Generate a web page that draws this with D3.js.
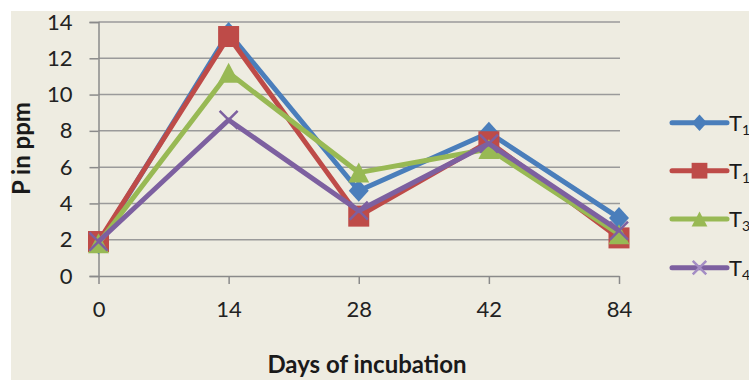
<!DOCTYPE html>
<html><head><meta charset="utf-8">
<script src="https://cdn.jsdelivr.net/npm/d3@7"></script>
<style>body{margin:0;background:#fff}svg{display:block}</style>
</head><body>
<svg id="c" width="749" height="380"></svg>
<script>
const categories = ["0","14","28","42","84"];
const yTicks = [0,2,4,6,8,10,12,14];
const seriesNames = ["T1","T1","T3","T4"];
const seriesSubs = ["1","1","3","4"];
const t1a = [1.8, 13.4, 4.7, 7.9, 3.2];
const t1b = [1.9, 13.2, 3.3, 7.4, 2.1];
const t3 = [1.8, 11.2, 5.7, 7.0, 2.3];
const t4 = [1.9, 8.6, 3.6, 7.3, 2.5];
const seriesValues = [t1a, t1b, t3, t4];
const colors = ["#4A7EBB", "#BE4B48", "#98B954", "#7D60A0"];
const markers = ["diamond", "square", "triangle", "x"];

const svg = d3.select("#c");
svg.append("rect").attr("x",11).attr("y",11).attr("width",738).attr("height",369).attr("fill","#EEECE1");

const x = d3.scalePoint().domain(categories).range([98.5, 619]).padding(0);
const y = d3.scaleLinear().domain([0,14]).range([276, 22]);
const font = "Lato, 'Open Sans', sans-serif";

// gridlines
svg.append("g").selectAll("line").data(yTicks.filter(d=>d>0)).join("line")
  .attr("x1", 98.5).attr("x2", 620).attr("y1", d=>y(d)).attr("y2", d=>y(d))
  .attr("stroke", "#9a9a9a").attr("stroke-width", 1.5);

// y axis
const ya = svg.append("g").attr("transform","translate(98.5,0)")
  .call(d3.axisLeft(y).tickValues(yTicks).tickSize(9).tickPadding(17).tickFormat(d3.format("d")));
ya.select(".domain").attr("stroke","#8a8a8a").attr("stroke-width",1.5);
ya.selectAll(".tick line").attr("stroke","#8a8a8a").attr("stroke-width",1.5);
ya.selectAll("text").attr("font-family",font).attr("font-size",22).attr("fill","#222");

// x axis
const xa = svg.append("g").attr("transform","translate(0,276)")
  .call(d3.axisBottom(x).tickSize(8).tickSizeOuter(0).tickPadding(17));
xa.select(".domain").attr("stroke","#8a8a8a").attr("stroke-width",1.5);
xa.selectAll(".tick line").attr("stroke","#8a8a8a").attr("stroke-width",1.5);
xa.selectAll("text").attr("font-family",font).attr("font-size",22).attr("fill","#222");

// titles
svg.append("text").attr("x", 367).attr("y", 373).attr("text-anchor","middle")
  .attr("font-family",font).attr("font-weight","bold").attr("font-size",24).attr("fill","#1a1a1a")
  .text("Days of incubation");
svg.append("text").attr("transform","translate(30,148.5) rotate(-90)").attr("text-anchor","middle")
  .attr("font-family",font).attr("font-weight","bold").attr("font-size",24).attr("fill","#1a1a1a")
  .text("P in ppm");

function drawMarker(g, type, cx, cy, color, scale) {
  const s = scale || 1;
  if (type === "diamond") {
    const w = 10*s, h = 11*s;
    g.append("path").attr("d", `M${cx},${cy-h}L${cx+w},${cy}L${cx},${cy+h}L${cx-w},${cy}Z`).attr("fill", color);
  } else if (type === "square") {
    const h = 10.5*s;
    g.append("rect").attr("x", cx-h).attr("y", cy-h).attr("width", 2*h).attr("height", 2*h).attr("fill", color);
  } else if (type === "triangle") {
    const w = 10.5*s, h = 10*s;
    g.append("path").attr("d", `M${cx},${cy-h}L${cx+w},${cy+h}L${cx-w},${cy+h}Z`).attr("fill", color);
  } else if (type === "x") {
    const h = 9*s;
    g.append("path").attr("d", `M${cx-h},${cy-h}L${cx+h},${cy+h}M${cx-h},${cy+h}L${cx+h},${cy-h}`)
      .attr("stroke", color).attr("stroke-width", 2.5).attr("fill","none");
  }
}

const line = d3.line().x((d,i)=>x(categories[i])).y(d=>y(d));
seriesValues.forEach((vals, si) => {
  const g = svg.append("g");
  g.append("path").attr("d", line(vals)).attr("fill","none").attr("stroke", colors[si])
    .attr("stroke-width", 5).attr("stroke-linejoin","round");
  vals.forEach((v,i) => drawMarker(g, markers[si], x(categories[i]), y(v), colors[si], 1));
});

// legend
const legY = [122.7, 170.7, 219, 267.7];
seriesNames.forEach((n, si) => {
  const g = svg.append("g");
  const ly = legY[si];
  g.append("line").attr("x1", 672).attr("x2", 727).attr("y1", ly).attr("y2", ly)
    .attr("stroke", colors[si]).attr("stroke-width", 5).attr("stroke-linecap","round");
  drawMarker(g, markers[si], 699.5, ly, si===3 ? "#A48DC4" : colors[si], 0.75);
  const t = g.append("text").attr("x", 729).attr("y", ly+8).attr("font-family",font)
    .attr("font-size",22).attr("fill","#1a1a1a");
  t.append("tspan").text("T");
  t.append("tspan").attr("font-size",14).attr("dy",4).text(seriesSubs[si]);
});
</script>
</body></html>
